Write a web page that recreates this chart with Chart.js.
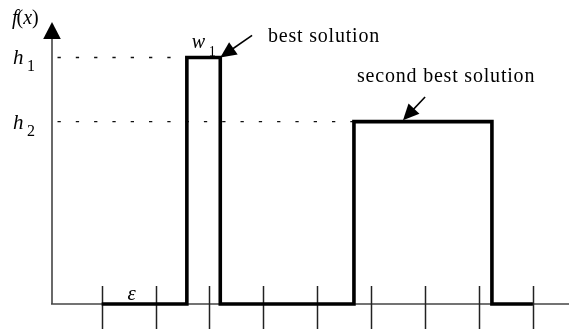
<!DOCTYPE html>
<html>
<head>
<meta charset="utf-8">
<script src="https://cdn.jsdelivr.net/npm/chart.js@4/dist/chart.umd.min.js"></script>
<style>
  html, body { margin: 0; padding: 0; background: #fff; }
  #wrap { width: 569px; height: 329px; position: relative; }
</style>
</head>
<body>
<div id="wrap"><canvas id="c"></canvas></div>
<script>
// ---- data ----
const xTicks = [1, 2, 3, 4, 5, 6, 7, 8, 9];
const fX = [1, 2.58, 2.58, 3.2, 3.2, 5.68, 5.68, 8.24, 8.24, 9];
const fY = [0, 0, 1, 1, 0, 0, 0.74, 0.74, 0, 0];
const levelNames = ['h', 'h'];
const levelSubs = ['1', '2'];
const levelValues = [1, 0.74];
const levelEnds = [2.58, 5.68];
const levelStart = 0.18;
const calloutTexts = ['best solution', 'second best solution'];
const calloutTails = [[3.79, 1.09], [7.0, 0.84]];
const calloutTips = [[3.2, 1.0], [6.59, 0.745]];
const widthLabel = ['w', '1'];
const epsLabel = 'ε';
const yAxisTitle = ['f', '(', 'x', ')'];

const SERIF = '"Liberation Serif", "DejaVu Serif", serif';

function arrowHead(ctx, x1, y1, x2, y2, len, half) {
  const a = Math.atan2(y2 - y1, x2 - x1);
  ctx.beginPath();
  ctx.moveTo(x2, y2);
  ctx.lineTo(x2 - len * Math.cos(a) + half * Math.sin(a), y2 - len * Math.sin(a) - half * Math.cos(a));
  ctx.lineTo(x2 - len * Math.cos(a) - half * Math.sin(a), y2 - len * Math.sin(a) + half * Math.cos(a));
  ctx.closePath();
  ctx.fill();
}

const decor = {
  id: 'decor',
  beforeDatasetsDraw(chart) {
    const ctx = chart.ctx, xs = chart.scales.x, ys = chart.scales.y;
    const x0 = xs.getPixelForValue(xs.min);
    const y0 = ys.getPixelForValue(0);
    const yTop = ys.getPixelForValue(ys.max);
    ctx.save();
    // x axis
    ctx.strokeStyle = '#444';
    ctx.lineWidth = 1.6;
    ctx.beginPath();
    ctx.moveTo(x0 - 1, y0);
    ctx.lineTo(chart.width, y0);
    ctx.stroke();
    // y axis
    ctx.beginPath();
    ctx.moveTo(x0, y0);
    ctx.lineTo(x0, yTop + 16);
    ctx.stroke();
    ctx.fillStyle = '#000';
    ctx.beginPath();
    ctx.moveTo(x0, yTop);
    ctx.lineTo(x0 - 8.8, yTop + 17);
    ctx.lineTo(x0 + 8.8, yTop + 17);
    ctx.closePath();
    ctx.fill();
    // ticks
    ctx.strokeStyle = '#222';
    ctx.lineWidth = 1.5;
    xTicks.forEach(t => {
      const px = Math.round(xs.getPixelForValue(t)) + 0.5;
      ctx.beginPath();
      ctx.moveTo(px, y0 - 18);
      ctx.lineTo(px, chart.height);
      ctx.stroke();
    });
    // w1 label (under the bar top)
    const bx = xs.getPixelForValue(2.58);
    const by = ys.getPixelForValue(1);
    ctx.fillStyle = '#000';
    ctx.font = 'italic 20px ' + SERIF;
    ctx.textBaseline = 'alphabetic';
    ctx.fillText(widthLabel[0], bx + 5, by - 9.5);
    ctx.font = '14px ' + SERIF;
    ctx.fillText(widthLabel[1], bx + 22, by - 1);
    ctx.restore();
  },
  afterDatasetsDraw(chart) {
    const ctx = chart.ctx, xs = chart.scales.x, ys = chart.scales.y;
    const x0 = xs.getPixelForValue(xs.min);
    const y0 = ys.getPixelForValue(0);
    ctx.save();
    ctx.fillStyle = '#000';
    ctx.textBaseline = 'alphabetic';
    // f(x)
    let px = x0 - 40;
    const parts = [['italic', yAxisTitle[0]], ['normal', yAxisTitle[1]], ['italic', yAxisTitle[2]], ['normal', yAxisTitle[3]]];
    parts.forEach(([st, s]) => {
      ctx.font = st + ' 20px ' + SERIF;
      ctx.fillText(s, px, 24);
      px += ctx.measureText(s).width + (s === 'f' ? -1 : 0);
    });
    // level labels
    levelValues.forEach((v, i) => {
      const py = ys.getPixelForValue(v);
      ctx.font = 'italic 21px ' + SERIF;
      ctx.fillText(levelNames[i], x0 - 39, py + 7);
      ctx.font = '16px ' + SERIF;
      ctx.fillText(levelSubs[i], x0 - 25, py + 14);
    });
    // epsilon
    ctx.font = 'italic 21px ' + SERIF;
    ctx.textAlign = 'center';
    ctx.fillText(epsLabel, (xs.getPixelForValue(xTicks[0]) + xs.getPixelForValue(xTicks[1])) / 2 + 3, y0 - 4);
    ctx.textAlign = 'left';
    // callouts
    ctx.font = '20px ' + SERIF;
    ctx.letterSpacing = '0.8px';
    const textPos = [[268, 41.5], [357, 82]];
    calloutTexts.forEach((t, i) => {
      ctx.fillText(t, textPos[i][0], textPos[i][1]);
      const tx = xs.getPixelForValue(calloutTails[i][0]), ty = ys.getPixelForValue(calloutTails[i][1]);
      const hx = xs.getPixelForValue(calloutTips[i][0]), hy = ys.getPixelForValue(calloutTips[i][1]);
      ctx.strokeStyle = '#000';
      ctx.lineWidth = 1.6;
      const a = Math.atan2(hy - ty, hx - tx);
      ctx.beginPath();
      ctx.moveTo(tx, ty);
      ctx.lineTo(hx - 10 * Math.cos(a), hy - 10 * Math.sin(a));
      ctx.stroke();
      arrowHead(ctx, tx, ty, hx, hy, 16, 7.5);
    });
    ctx.restore();
  }
};

const guideSets = levelValues.map((v, i) => ({
  data: [{ x: levelStart, y: v }, { x: levelEnds[i], y: v }],
  borderColor: '#111',
  borderWidth: 1.4,
  borderDash: [3.3, 15],
  pointRadius: 0,
  showLine: true,
  clip: false,
  order: 2
}));

new Chart(document.getElementById('c'), {
  type: 'scatter',
  data: {
    datasets: [
      {
        data: fX.map((x, i) => ({ x, y: fY[i] })),
        borderColor: '#000',
        borderWidth: 3.6,
        borderJoinStyle: 'miter',
        borderCapStyle: 'butt',
        pointRadius: 0,
        showLine: true,
        tension: 0,
        clip: false,
        order: 1
      },
      ...guideSets
    ]
  },
  options: {
    responsive: true,
    maintainAspectRatio: false,
    animation: false,
    devicePixelRatio: 1,
    layout: { padding: { left: 52, right: 0, top: 22, bottom: 25 } },
    scales: {
      x: { type: 'linear', min: 0.078, max: 9.67, display: false },
      y: { type: 'linear', min: 0, max: 1.144, display: false }
    },
    plugins: { legend: { display: false }, tooltip: { enabled: false } }
  },
  plugins: [decor]
});
</script>
</body>
</html>
